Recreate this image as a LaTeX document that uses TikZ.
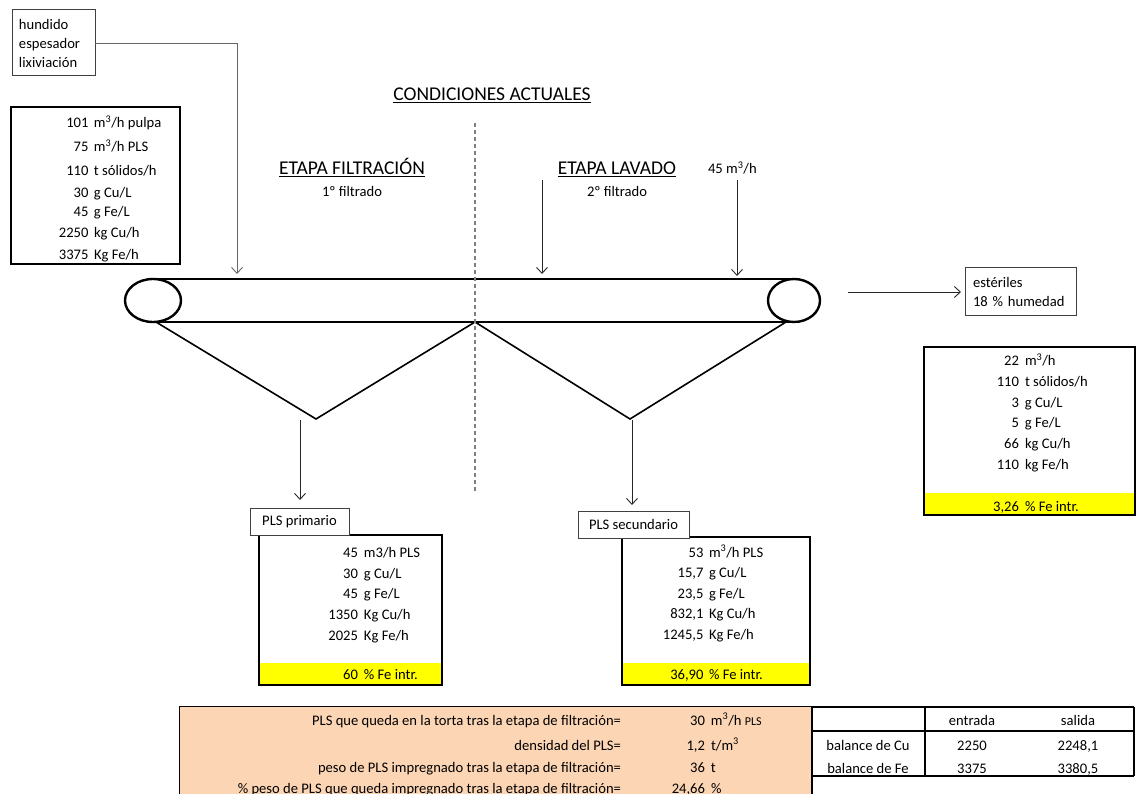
\documentclass[tikz,border=0pt]{standalone}
\usepackage{fontspec}
\setmainfont{Carlito}
\usetikzlibrary{arrows.meta,shapes.geometric}
\definecolor{peach}{HTML}{FCD5B4}
\definecolor{hiyellow}{HTML}{FFFF00}
\definecolor{divgray}{HTML}{808080}
\newcommand\cubic{m\textsuperscript{3}}
\begin{document}
\begin{tikzpicture}[x=1pt,y=-1pt,
  every node/.style={inner sep=0pt, outer sep=0pt},
  body/.style={font=\fontsize{14.6}{19}\selectfont},
  txt/.style={body, anchor=base west},
  ctxt/.style={body, anchor=base},
  rtxt/.style={body, anchor=base east},
  head/.style={font=\fontsize{19.5}{22}\selectfont, anchor=base},
  thinbox/.style={body, draw=black!75, line width=1pt, anchor=north west},
  databox/.style={draw=black, line width=2.2pt, anchor=north west},
  flow/.style={draw=black!85, line width=0.9pt, -{Straight Barb[length=6pt,width=11pt]}},
  roll/.style={ellipse, draw=black, line width=2.4pt},
  belt/.style={line width=2pt},
  hopper/.style={line width=1.6pt, line join=miter},
  divider/.style={draw=divgray, line width=1.4pt, dash pattern=on 4pt off 3pt},
  grid/.style={line width=1.4pt},
]
\useasboundingbox (0,0) rectangle (1136,794);

% ---- bottom summary block and balance table ----
\filldraw[fill=peach, draw=black, line width=1pt] (179,706) rectangle (812,800);
\draw[grid] (812,707) -- (1134,707) (812,731) -- (1134,731) (812,776) -- (1134,776);
\draw[grid] (812,706) -- (812,800) (925,707) -- (925,776) (1134,707) -- (1134,776);

% ---- yellow result bands ----
\fill[hiyellow] (259,663) rectangle (442,685);
\fill[hiyellow] (622,663) rectangle (810,685);
\fill[hiyellow] (924,493) rectangle (1135,515);

% ---- boxes ----
\node[thinbox, minimum width=83pt, minimum height=66pt, text width=69pt, align=left]
  (hund) at (12,10) {hundido\\espesador\\lixiviación};
\node[databox, minimum width=169pt, minimum height=157pt] (feed) at (11,107) {};
\node[thinbox, minimum width=111pt, minimum height=48pt, text width=95pt, align=left]
  (est) at (965,268) {estériles\\18 \% humedad};
\node[databox, minimum width=211pt, minimum height=168pt] (tail) at (924,347) {};
\node[databox, minimum width=183pt, minimum height=150pt] (prim) at (259,535) {};
\node[thinbox, fill=white, minimum width=99pt, minimum height=27pt] (plsP) at (250,508) {PLS primario};
\node[databox, minimum width=188pt, minimum height=148pt] (sec) at (622,537) {};
\node[thinbox, fill=white, minimum width=111pt, minimum height=27pt] (plsS) at (578,511) {PLS secundario};

% ---- titles ----
\node[head] (title) at (492,101) {\underline{CONDICIONES ACTUALES}};
\node[head] (stF) at (352,175) {\underline{ETAPA FILTRACIÓN}};
\node[head] (stL) at (617,175) {\underline{ETAPA LAVADO}};
\node[ctxt] (subF) at (352,197) {1º filtrado};
\node[ctxt] (subL) at (617,197) {2º filtrado};
\node[txt] (water) at (708,174) {45 \cubic/h};

% ---- belt filter ----
\node[roll, minimum width=56pt, minimum height=43pt] (rollL) at (153,300.5) {};
\node[roll, minimum width=52pt, minimum height=43pt] (rollR) at (794,300.5) {};
\draw[belt] (rollL.north) -- (rollR.north);
\draw[belt] (rollL.south) -- (rollR.south);
\coordinate (hA) at (156,322);
\coordinate (apL) at (316,419);
\coordinate (mid) at (475,322);
\coordinate (apR) at (630,419);
\coordinate (hB) at (786,322);
\draw[hopper] (hA) -- (apL) -- (mid) -- (apR) -- (hB);
\coordinate (divTop) at (475,123);
\coordinate (divBot) at (475,493);
\draw[divider] (divTop) -- (divBot);

% ---- streams ----
\coordinate (feedIn) at (237,274);
\draw[flow, draw=black!60] (hund.east) -| (feedIn);
\coordinate (washTop) at (542,180);
\coordinate (washIn) at (542,274);
\draw[flow] (washTop) -- (washIn);
\coordinate (waterTop) at (737,180);
\coordinate (waterIn) at (737,276);
\draw[flow] (waterTop) -- (waterIn);
\coordinate (tailOut) at (848,292);
\draw[flow, shorten >=4pt] (tailOut) -- (est.west);
\coordinate (primTop) at (300,420);
\draw[flow, shorten >=8pt] (primTop) -- (primTop |- plsP.north);
\coordinate (secTop) at (632,420);
\draw[flow, shorten >=6pt] (secTop) -- (secTop |- plsS.north);

% ---- stream data ----
\foreach \yy/\nn/\uu [count=\i] in {
  128/101/{\cubic/h pulpa}, 152/75/{\cubic/h PLS}, 176/110/{t sólidos/h},
  198/30/{g Cu/L}, 217/45/{g Fe/L}, 238/2250/{kg Cu/h}, 260/3375/{Kg Fe/h}}
  \node[txt] (f\i) at (94,\yy) {\llap{\nn\hspace{5.5pt}}\uu};

\foreach \yy/\nn/\uu [count=\i] in {
  557/45/{m3/h PLS}, 578/30/{g Cu/L}, 598/45/{g Fe/L}, 619/1350/{Kg Cu/h},
  640/2025/{Kg Fe/h}, 679/60/{\% Fe intr.}}
  \node[txt] (p\i) at (364,\yy) {\llap{\nn\hspace{6pt}}\uu};

\foreach \yy/\nn/\uu [count=\i] in {
  557/53/{\cubic/h PLS}, 577/{15,7}/{g Cu/L}, 598/{23,5}/{g Fe/L},
  618/{832,1}/{Kg Cu/h}, 639/{1245,5}/{Kg Fe/h}, 679/{36,90}/{\% Fe intr.}}
  \node[txt] (s\i) at (709,\yy) {\llap{\nn\hspace{5.5pt}}\uu};

\foreach \yy/\nn/\uu [count=\i] in {
  366/22/{\cubic/h}, 387/110/{t sólidos/h}, 408/3/{g Cu/L}, 428/5/{g Fe/L},
  448/66/{kg Cu/h}, 469/110/{kg Fe/h}, 511/{3,26}/{\% Fe intr.}}
  \node[txt] (t\i) at (1025,\yy) {\llap{\nn\hspace{6pt}}\uu};

% ---- summary rows ----
\node[rtxt] (q1) at (621,725) {PLS que queda en la torta tras la etapa de filtración=};
\node[rtxt] (q2) at (621,750) {densidad del PLS=};
\node[rtxt] (q3) at (621,772) {peso de PLS impregnado tras la etapa de filtración=};
\node[rtxt] (q4) at (621,793) {\% peso de PLS que queda impregnado tras la etapa de filtración=};
\node[txt] (v1) at (711,725) {\llap{30\hspace{6pt}}\cubic/h {\fontsize{12}{14}\selectfont PLS}};
\node[txt] (v2) at (711,750) {\llap{1,2\hspace{6pt}}t/\cubic};
\node[txt] (v3) at (711,772) {\llap{36\hspace{6pt}}t};
\node[txt] (v4) at (711,793) {\llap{24,66\hspace{6pt}}\%};

% ---- balance table ----
\node[ctxt] (hIn) at (972,725) {entrada};
\node[ctxt] (hOut) at (1078,725) {salida};
\node[ctxt] (bCu) at (868,750) {balance de Cu};
\node[ctxt] (bCuIn) at (972,750) {2250};
\node[ctxt] (bCuOut) at (1078,750) {2248,1};
\node[ctxt] (bFe) at (868,773) {balance de Fe};
\node[ctxt] (bFeIn) at (972,773) {3375};
\node[ctxt] (bFeOut) at (1078,773) {3380,5};
\end{tikzpicture}
\end{document}
